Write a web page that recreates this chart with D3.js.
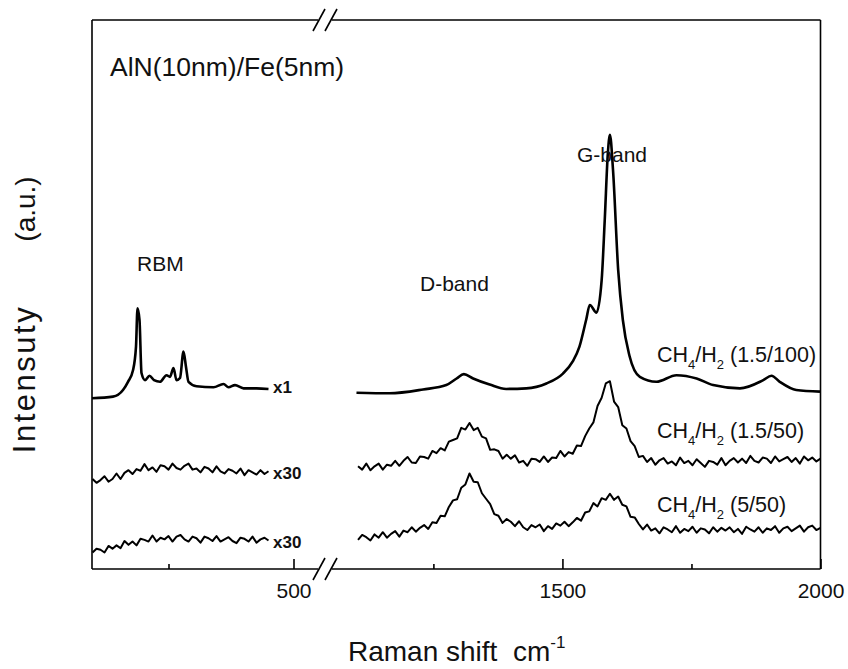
<!DOCTYPE html>
<html>
<head>
<meta charset="utf-8">
<script src="https://cdn.jsdelivr.net/npm/d3@7"></script>
<style>
  body { margin: 0; background: #fff; }
  svg { font-family: Arial, "Liberation Sans", sans-serif; }
</style>
</head>
<body>
<svg id="chart" width="848" height="669" viewBox="0 0 848 669"></svg>
<script>
// ---- data (intensity in arbitrary units 0..100) ----

// RBM region, x1 (smooth)
const rbmShift = [97, 139, 159, 169, 179, 185, 188, 192, 196, 203, 212, 221, 233, 246, 253,
  260, 266, 273, 280, 285, 290, 306, 340, 360, 370, 383, 400, 426, 450];
const rbmX1 = [31.1, 31.4, 32.6, 34.1, 36.2, 40.5, 47.5, 45.4, 35.7, 34.4, 35.2, 34.4, 34.1, 35.3, 35.0,
  36.6, 34.4, 34.8, 39.6, 36.8, 34.1, 33.3, 33.1, 33.7, 33.1, 33.5, 32.9, 32.9, 32.8];

// RBM region, x30, sampled every 8 cm-1 from 98
const rbmX30a = [16.4, 15.7, 16.2, 16.9, 15.9, 16.4, 17.4, 16.4, 17.5, 18.0,
  17.3, 18.2, 17.9, 19.1, 18.0, 18.5, 17.7, 18.9, 18.7, 18.1,
  19.2, 18.4, 18.1, 18.8, 19.2, 18.1, 18.3, 17.6, 18.6, 18.3,
  17.6, 18.7, 17.8, 17.4, 18.2, 17.9, 17.4, 18.3, 17.1, 18.0,
  17.6, 17.2, 18.0, 17.3, 17.8];
const rbmX30b = [3.0, 3.7, 3.5, 3.0, 4.2, 3.7, 4.3, 3.8, 5.1, 4.4,
  5.0, 4.3, 5.5, 5.3, 5.0, 6.1, 5.0, 5.7, 5.4, 6.0,
  5.0, 5.9, 6.2, 5.4, 5.0, 5.9, 5.6, 4.8, 5.9, 5.6,
  5.1, 6.0, 5.0, 5.4, 5.8, 5.1, 4.7, 5.7, 5.5, 5.0,
  5.9, 4.8, 5.4, 5.7, 5.2];

// D/G region, CH4/H2 (1.5/100) (smooth)
const dgShift = [1101, 1165, 1230, 1275, 1295, 1309, 1327, 1359, 1391, 1430,
  1469, 1501, 1520, 1533, 1546, 1553, 1566, 1576, 1582, 1588,
  1592, 1598, 1608, 1617, 1630, 1650, 1682, 1721, 1760, 1792,
  1844, 1889, 1905, 1921, 1953, 1999];
const dg_1_5_100 = [32.1, 32.0, 32.7, 33.5, 34.7, 35.5, 34.7, 33.6, 32.8, 32.9,
  33.8, 35.6, 37.8, 40.5, 45.4, 48.1, 46.7, 52.6, 63.6, 75.7,
  79.1, 72.7, 54.5, 45.4, 38.8, 35.0, 34.1, 35.3, 34.7, 33.5,
  32.9, 34.4, 35.2, 34.1, 32.6, 32.3];

// D/G region, sampled every 8 cm-1 from 1104
const dg_1_5_50 = [18.7, 18.1, 19.2, 18.0, 18.7, 19.2, 18.1, 19.0, 18.8, 19.7,
  18.8, 19.7, 20.4, 19.4, 19.3, 20.5, 20.4, 20.1, 21.5, 21.1,
  22.0, 21.6, 23.2, 23.5, 23.8, 25.7, 25.4, 26.6, 25.3, 25.7,
  24.1, 23.8, 21.7, 21.8, 21.5, 20.1, 20.8, 20.1, 20.7, 19.4,
  19.7, 18.8, 20.1, 20.0, 19.5, 20.5, 19.5, 20.3, 20.2, 21.5,
  20.5, 21.3, 21.0, 22.5, 22.4, 24.2, 25.6, 26.7, 29.7, 31.2,
  33.8, 34.2, 30.5, 29.5, 26.2, 25.6, 23.3, 22.4, 20.4, 20.6,
  19.5, 20.2, 19.0, 19.8, 20.2, 19.2, 19.6, 18.9, 20.3, 19.3,
  19.7, 18.9, 20.0, 19.3, 18.6, 19.7, 19.5, 19.0, 20.2, 18.9,
  19.7, 20.2, 19.4, 20.1, 19.3, 20.6, 19.7, 19.4, 20.3, 20.1,
  19.3, 20.5, 19.6, 20.0, 20.4, 19.5, 20.2, 19.2, 20.5, 19.8,
  20.3, 19.6, 20.1];
const dg_5_50 = [5.3, 6.2, 5.8, 5.2, 6.3, 5.7, 6.7, 5.7, 6.4, 6.9,
  5.9, 7.0, 6.7, 7.6, 6.8, 7.5, 8.0, 7.3, 8.5, 8.4,
  9.7, 9.6, 11.3, 12.5, 12.7, 14.8, 15.4, 17.4, 15.9, 15.8,
  13.8, 12.8, 11.8, 10.0, 9.7, 8.4, 9.1, 8.6, 7.8, 8.7,
  7.6, 7.1, 8.0, 7.6, 8.1, 6.9, 7.8, 7.3, 8.3, 7.9,
  8.6, 7.8, 8.5, 9.3, 8.8, 10.3, 10.5, 12.0, 11.4, 12.9,
  12.6, 13.7, 12.6, 13.2, 11.7, 11.4, 9.5, 9.4, 8.2, 7.2,
  8.1, 7.0, 7.4, 6.5, 7.6, 7.2, 6.7, 7.8, 6.6, 7.3,
  6.9, 7.7, 6.6, 7.4, 7.2, 6.5, 7.6, 6.8, 7.5, 7.0,
  7.6, 6.7, 7.3, 6.4, 7.7, 7.2, 6.8, 7.6, 6.6, 7.4,
  7.1, 7.8, 6.6, 7.4, 7.7, 6.9, 7.4, 7.9, 6.8, 7.6,
  7.9, 7.1, 7.5];

const lowTicks = [500];
const lowMinor = [250];
const highTicks = [1500, 2000];
const highMinor = [1250, 1750];

const seriesLabels = ["1.5/100", "1.5/50", "5/50"];
const factorLabels = ["x1", "x30", "x30"];

// ---- layout ----
const svg = d3.select("#chart");
const margins = { left: 92, right: 27.5, top: 20, bottom: 100 };
const plotRight = 848 - margins.right;
const plotBottom = 669 - margins.bottom;

const xLow = d3.scaleLinear().domain([97, 565]).range([margins.left, 326]);
const xHigh = d3.scaleLinear().domain([1040, 2000]).range([325, plotRight]);
const yScale = d3.scaleLinear().domain([0, 100]).range([plotBottom, margins.top]);

const pairs = (xs, ys) => xs.map((x, i) => [x, ys[i]]);
const gridPairs = (start, step, ys) => ys.map((y, i) => [start + step * i, y]);

function drawCurve(points, xScale, smooth, width) {
  const line = d3.line()
    .x((d) => xScale(d[0]))
    .y((d) => yScale(d[1]))
    .curve(smooth ? d3.curveMonotoneX : d3.curveLinear);
  svg.append("path")
    .datum(points)
    .attr("d", line)
    .attr("fill", "none")
    .attr("stroke", "#000")
    .attr("stroke-width", width)
    .attr("stroke-linejoin", "round");
}

drawCurve(pairs(rbmShift, rbmX1), xLow, true, 2.6);
drawCurve(gridPairs(98, 8, rbmX30a), xLow, false, 2);
drawCurve(gridPairs(98, 8, rbmX30b), xLow, false, 2);
drawCurve(pairs(dgShift, dg_1_5_100), xHigh, true, 2.6);
drawCurve(gridPairs(1104, 8, dg_1_5_50), xHigh, false, 2);
drawCurve(gridPairs(1104, 8, dg_5_50), xHigh, false, 2);

// ---- frame with axis break ----
const frame = svg.append("g")
  .attr("stroke", "#000")
  .attr("stroke-width", 1.6)
  .attr("fill", "none");

const breakL = 319, breakR = 331;
[margins.top, plotBottom].forEach((y) => {
  frame.append("line").attr("x1", margins.left).attr("x2", breakL - 1).attr("y1", y).attr("y2", y);
  frame.append("line").attr("x1", breakR + 1).attr("x2", plotRight).attr("y1", y).attr("y2", y);
  [breakL, breakR].forEach((c) => {
    frame.append("line")
      .attr("x1", c - 6).attr("y1", y + 11)
      .attr("x2", c + 6).attr("y2", y - 11);
  });
});
frame.append("line").attr("x1", margins.left).attr("x2", margins.left)
  .attr("y1", margins.top).attr("y2", plotBottom);
frame.append("line").attr("x1", plotRight).attr("x2", plotRight)
  .attr("y1", margins.top).attr("y2", plotBottom);

// ---- x axes (ticks pointing inward) ----
function addAxis(scale, major, minor) {
  const g = svg.append("g").attr("transform", `translate(0 ${plotBottom})`);
  g.call(d3.axisBottom(scale).tickValues(major).tickSize(-10).tickPadding(14).tickFormat(d3.format("d")));
  g.select(".domain").remove();
  const m = svg.append("g").attr("transform", `translate(0 ${plotBottom})`);
  m.call(d3.axisBottom(scale).tickValues(minor).tickSize(-5).tickFormat(""));
  m.select(".domain").remove();
  [g, m].forEach((s) => s.selectAll("line").attr("stroke", "#000").attr("stroke-width", 1.6));
  g.selectAll("text")
    .style("font-size", "21px")
    .style("font-family", "Arial, 'Liberation Sans', sans-serif")
    .attr("fill", "#111");
}
addAxis(xLow, lowTicks, lowMinor);
addAxis(xHigh, highTicks, highMinor);

// ---- axis titles ----
const xTitle = svg.append("text")
  .attr("x", 348)
  .attr("y", 661)
  .style("font-size", "28px")
  .attr("fill", "#111");
xTitle.append("tspan").text("Raman shift  cm").attr("xml:space", "preserve");
xTitle.append("tspan").text("-1").attr("dy", -13).style("font-size", "17px");

svg.append("text")
  .attr("transform", "translate(35 379) rotate(-90)")
  .attr("text-anchor", "middle")
  .style("font-size", "31px")
  .style("letter-spacing", "2.5px")
  .attr("fill", "#111")
  .text("Intensuty");
svg.append("text")
  .attr("transform", "translate(35 209) rotate(-90)")
  .attr("text-anchor", "middle")
  .style("font-size", "28px")
  .attr("fill", "#111")
  .text("(a.u.)");

// ---- annotations ----
svg.append("text").attr("x", 110).attr("y", 76)
  .style("font-size", "26.5px").attr("fill", "#111")
  .text("AlN(10nm)/Fe(5nm)");

const bandLabels = [
  { t: "RBM", x: 137, y: 271 },
  { t: "D-band", x: 420, y: 291 },
  { t: "G-band", x: 577, y: 162 }
];
svg.selectAll("text.band")
  .data(bandLabels)
  .enter()
  .append("text")
  .attr("class", "band")
  .attr("x", (d) => d.x)
  .attr("y", (d) => d.y)
  .style("font-size", "21px")
  .attr("fill", "#111")
  .text((d) => d.t);

const seriesY = [362, 438, 512];
const legendTexts = svg.selectAll("text.series")
  .data(seriesLabels)
  .enter()
  .append("text")
  .attr("class", "series")
  .attr("x", 657)
  .attr("y", (d, i) => seriesY[i])
  .style("font-size", "21.5px")
  .attr("fill", "#111");
legendTexts.append("tspan").text("CH");
legendTexts.append("tspan").text("4").attr("dy", 7).style("font-size", "13px");
legendTexts.append("tspan").text("/H").attr("dy", -7);
legendTexts.append("tspan").text("2").attr("dy", 7).style("font-size", "13px");
legendTexts.append("tspan").text((d) => ` (${d})`).attr("dy", -7).attr("xml:space", "preserve");

const factorY = [393, 479, 548];
svg.selectAll("text.factor")
  .data(factorLabels)
  .enter()
  .append("text")
  .attr("class", "factor")
  .attr("x", 273)
  .attr("y", (d, i) => factorY[i])
  .style("font-size", "17px")
  .style("font-weight", "bold")
  .attr("fill", "#111")
  .text((d) => d);
</script>
</body>
</html>
